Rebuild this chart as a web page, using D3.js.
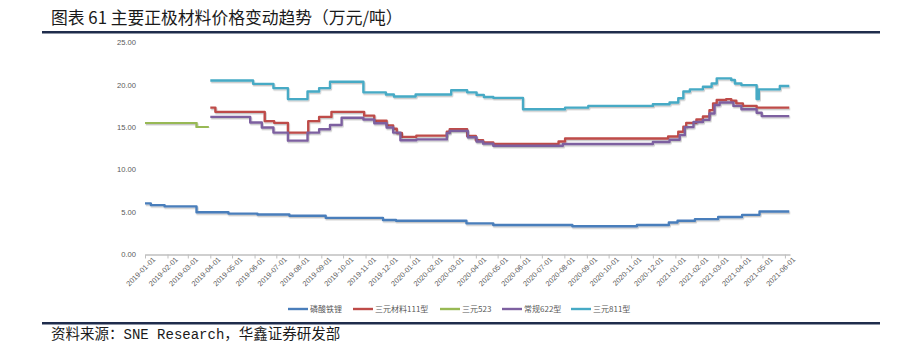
<!DOCTYPE html>
<html>
<head>
<meta charset="utf-8">
<script src="https://cdn.jsdelivr.net/npm/d3@7"></script>
<style>
  html, body { margin: 0; padding: 0; background: #fff; }
  svg { display: block; }
</style>
</head>
<body>
<svg id="chart" width="900" height="343"></svg>
<script>
// Price series (万元/吨), stored as [date, value] at each price change
const seriesNames = ["磷酸铁锂", "三元材料111型", "三元523", "常规622型", "三元811型"];

const lfpPrices = [
  ["2019-01-01", 6.0], ["2019-01-09", 5.8], ["2019-01-28", 5.65], ["2019-03-13", 4.95],
  ["2019-04-26", 4.8], ["2019-06-05", 4.7], ["2019-07-19", 4.55], ["2019-09-07", 4.3],
  ["2019-11-25", 4.05], ["2019-12-13", 3.95], ["2020-03-19", 3.65], ["2020-04-25", 3.45],
  ["2020-08-12", 3.3], ["2020-11-09", 3.45], ["2020-12-23", 3.75], ["2021-01-04", 3.95],
  ["2021-01-28", 4.15], ["2021-03-01", 4.4], ["2021-04-03", 4.65], ["2021-04-27", 5.05],
  ["2021-06-07", 5.05]
];

const ncm111Prices = [
  ["2019-04-01", 17.3], ["2019-04-08", 16.8], ["2019-06-15", 15.7], ["2019-06-28", 15.5],
  ["2019-07-17", 14.35], ["2019-08-14", 15.7], ["2019-08-29", 16.2], ["2019-09-15", 16.8],
  ["2019-10-30", 16.35], ["2019-11-13", 15.75], ["2019-11-30", 15.2], ["2019-12-09", 14.8],
  ["2019-12-14", 14.3], ["2019-12-21", 13.85], ["2020-01-10", 14.0], ["2020-02-21", 14.45],
  ["2020-02-25", 14.75], ["2020-03-20", 13.95], ["2020-04-01", 13.45], ["2020-04-11", 13.2],
  ["2020-04-25", 13.0], ["2020-07-24", 13.3], ["2020-08-02", 13.65], ["2020-12-22", 13.9],
  ["2021-01-05", 14.45], ["2021-01-12", 15.05], ["2021-01-16", 15.5], ["2021-01-30", 15.9],
  ["2021-02-08", 16.25], ["2021-02-17", 17.0], ["2021-02-22", 17.8], ["2021-02-27", 18.2],
  ["2021-03-12", 18.3], ["2021-03-19", 18.1], ["2021-03-26", 17.8], ["2021-04-04", 17.5],
  ["2021-04-23", 17.3], ["2021-06-07", 17.3]
];

const ncm523Prices = [
  ["2019-01-01", 15.5], ["2019-03-13", 15.0], ["2019-03-30", 15.0]
];

const ncm622Prices = [
  ["2019-04-01", 16.2], ["2019-05-26", 15.55], ["2019-06-11", 14.95], ["2019-06-27", 14.35],
  ["2019-07-17", 13.4], ["2019-08-13", 14.35], ["2019-08-29", 14.75], ["2019-09-13", 15.25],
  ["2019-09-29", 16.1], ["2019-10-29", 15.9], ["2019-11-13", 15.45], ["2019-11-30", 14.95],
  ["2019-12-09", 14.35], ["2019-12-19", 13.45], ["2020-01-10", 13.55], ["2020-02-21", 14.3],
  ["2020-02-25", 14.55], ["2020-03-21", 13.8], ["2020-04-02", 13.3], ["2020-04-11", 13.05],
  ["2020-04-25", 12.8], ["2020-07-30", 13.0], ["2020-12-01", 13.25], ["2020-12-24", 13.5],
  ["2021-01-07", 14.05], ["2021-01-14", 15.0], ["2021-01-26", 15.6], ["2021-02-08", 15.85],
  ["2021-02-17", 16.6], ["2021-02-24", 17.6], ["2021-03-03", 17.9], ["2021-03-22", 17.5],
  ["2021-04-02", 17.1], ["2021-04-23", 16.7], ["2021-04-30", 16.3], ["2021-06-07", 16.3]
];

const ncm811Prices = [
  ["2019-04-01", 20.5], ["2019-05-30", 20.1], ["2019-06-27", 19.6], ["2019-07-17", 18.3],
  ["2019-08-13", 19.2], ["2019-08-29", 19.6], ["2019-09-13", 20.35], ["2019-10-29", 19.1],
  ["2019-11-29", 18.85], ["2019-12-10", 18.6], ["2020-01-09", 18.85], ["2020-02-27", 19.35],
  ["2020-03-20", 19.1], ["2020-04-02", 18.8], ["2020-04-12", 18.55], ["2020-04-25", 18.45],
  ["2020-06-05", 17.1], ["2020-08-02", 17.3], ["2020-09-03", 17.5], ["2020-12-01", 17.7],
  ["2020-12-24", 17.9], ["2021-01-05", 18.4], ["2021-01-12", 19.2], ["2021-01-21", 19.45],
  ["2021-02-08", 19.75], ["2021-02-20", 20.15], ["2021-02-27", 20.75], ["2021-03-19", 20.55],
  ["2021-03-24", 20.15], ["2021-04-02", 19.95], ["2021-04-23", 18.3], ["2021-04-26", 19.45],
  ["2021-05-25", 19.85], ["2021-06-07", 19.85]
];

const seriesValues = [lfpPrices, ncm111Prices, ncm523Prices, ncm622Prices, ncm811Prices];
const seriesColors = ["#4a7ebb", "#be4b48", "#98b954", "#7d60a0", "#46aac5"];

const yTickValues = [0, 5, 10, 15, 20, 25];
const xStart = "2019-01-01";
const xEnd = "2021-06-08";
const xLastTick = "2021-06-01";

const titleText = "图表 61 主要正极材料价格变动趋势（万元/吨）";
const sourceParts = [["资料来源：", "cjk"], ["SNE Research", "latin"], ["，华鑫证券研发部", "cjk"]];

const parse = d3.utcParse("%Y-%m-%d");
const fmtDate = d3.utcFormat("%Y-%m-%d");
const svg = d3.select("#chart");

// Title and frame rules
svg.append("text")
  .attr("x", 51).attr("y", 23.5)
  .attr("font-family", "'Noto Sans CJK SC', sans-serif")
  .attr("font-size", 16.8)
  .attr("fill", "#1a1a1a")
  .text(titleText);

svg.append("rect").attr("x", 42).attr("y", 31).attr("width", 838).attr("height", 2.5).attr("fill", "#1f2c4c");
svg.append("rect").attr("x", 42).attr("y", 322).attr("width", 838).attr("height", 2.5).attr("fill", "#1f2c4c");

const src = svg.append("text")
  .attr("x", 51).attr("y", 339)
  .attr("font-size", 14.5)
  .attr("fill", "#1a1a1a");
sourceParts.forEach(([t, kind]) => {
  src.append("tspan")
    .attr("font-family", kind === "latin" ? "'Liberation Mono', monospace" : "'Noto Sans CJK SC', sans-serif")
    .attr("font-size", kind === "latin" ? 14 : 14.5)
    .text(t);
});

// Scales
const x = d3.scaleUtc().domain([parse(xStart), parse(xEnd)]).range([145, 790]);
const y = d3.scaleLinear().domain([0, 25]).range([254.3, 42.3]);

// Y axis labels (no axis line)
const yAxis = d3.axisLeft(y).tickValues(yTickValues).tickFormat(d3.format(".2f")).tickSize(0).tickPadding(0);
const yG = svg.append("g").attr("transform", "translate(136,0)").call(yAxis);
yG.select(".domain").remove();
yG.selectAll("text")
  .attr("font-family", "'Liberation Sans', Arial, sans-serif")
  .attr("font-size", 7.6)
  .attr("fill", "#595959");

// X axis with monthly ticks
const months = d3.utcMonth.range(parse(xStart), d3.utcDay.offset(parse(xLastTick), 1));
const xAxis = d3.axisBottom(x).tickValues(months).tickFormat(fmtDate).tickSize(4).tickSizeOuter(0);
const xG = svg.append("g").attr("transform", "translate(0,254.5)").call(xAxis);
xG.select(".domain").attr("stroke", "#bfbfbf").attr("stroke-width", 1.5);
xG.selectAll(".tick line").attr("stroke", "#bfbfbf");
xG.selectAll(".tick text")
  .attr("font-family", "'Liberation Sans', Arial, sans-serif")
  .attr("font-size", 7.4)
  .attr("fill", "#595959")
  .attr("text-anchor", "end")
  .attr("transform", "translate(3,-2) rotate(-45)")
  .attr("dy", "0.35em")
  .attr("y", 8)
  .attr("x", 0);

// Soft shadow under the lines
const defs = svg.append("defs");
const filt = defs.append("filter").attr("id", "lineShadow")
  .attr("x", "-5%").attr("y", "-20%").attr("width", "110%").attr("height", "140%");
filt.append("feDropShadow").attr("dx", 0.8).attr("dy", 1.4)
  .attr("stdDeviation", 0.7).attr("flood-color", "#000").attr("flood-opacity", 0.22);

const line = d3.line()
  .x(d => x(parse(d[0])))
  .y(d => y(d[1]))
  .curve(d3.curveStepAfter);

seriesValues.forEach((vals, i) => {
  svg.append("path")
    .datum(vals)
    .attr("d", line)
    .attr("fill", "none")
    .attr("stroke", seriesColors[i])
    .attr("stroke-width", 2.4)
    .attr("stroke-linejoin", "round")
    .attr("filter", "url(#lineShadow)");
});

// Legend
const legendX = [288, 353, 440, 502, 571];
const legend = svg.append("g").attr("transform", "translate(0,309)");
seriesNames.forEach((name, i) => {
  const g = legend.append("g").attr("transform", `translate(${legendX[i]},0)`);
  g.append("line").attr("x1", 0).attr("x2", 20).attr("y1", 0).attr("y2", 0)
    .attr("stroke", seriesColors[i]).attr("stroke-width", 2.4);
  g.append("text").attr("x", 22).attr("y", 0).attr("dy", "0.35em")
    .attr("font-family", "'Noto Sans CJK SC', sans-serif")
    .attr("font-size", 8)
    .attr("fill", "#595959")
    .text(name);
});
</script>
</body>
</html>
